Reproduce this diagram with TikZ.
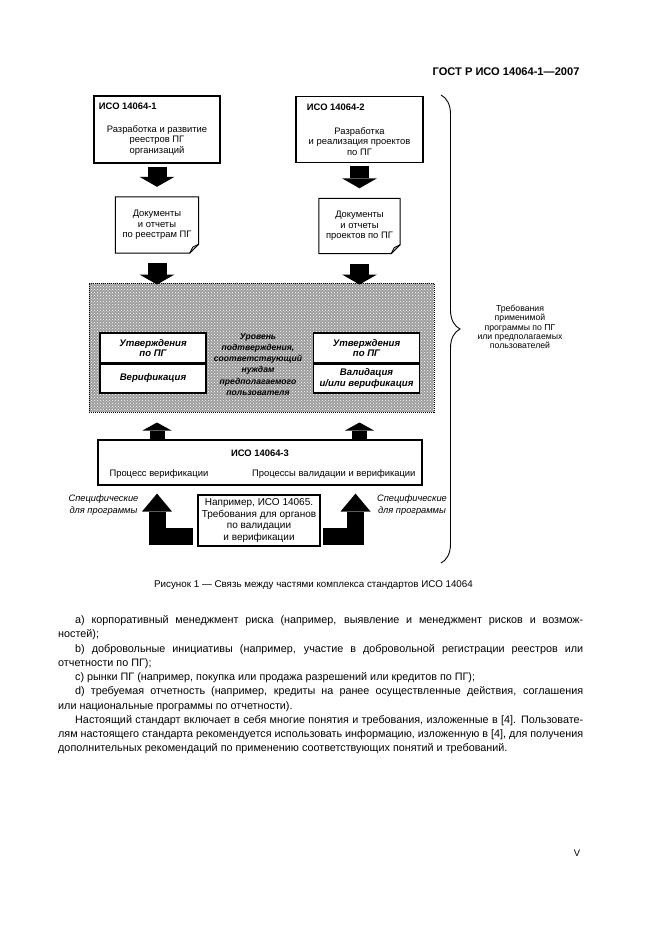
\documentclass[tikz,border=0pt]{standalone}
\usepackage{fontspec}
\setmainfont{Liberation Sans}
\usetikzlibrary{positioning, arrows.meta, patterns, decorations.pathreplacing}

\newcommand{\fullline}[1]{\makebox[\linewidth][s]{#1}\par}
\newcommand{\lastline}[1]{\mbox{#1}\par}

\begin{document}
\begin{tikzpicture}[x=1pt, y=-1pt, on grid, font=\fontsize{9.4}{10.6}\selectfont,
    isobox/.style={draw, line width=1.1pt, fill=white, minimum width=126pt, minimum height=67pt, inner sep=0pt},
    docbox/.style={minimum width=83pt, minimum height=56pt, align=center, inner sep=0pt},
    subbox/.style={draw, line width=1.1pt, fill=white, minimum width=106pt, minimum height=30pt, align=center, inner sep=0pt, font=\fontsize{9.6}{10.8}\selectfont\bfseries\itshape},
    fatdown/.style={line width=19pt, -{Triangle[width=35pt, length=10pt, line width=0pt]}},
    fatup/.style={line width=15pt, -{Triangle[width=29pt, length=8pt, line width=0pt]}},
    fatturn/.style={line width=17pt, line join=miter, -{Triangle[width=30pt, length=18pt, line width=0pt]}}]
  \useasboundingbox (0,0) rectangle (661,936);

  \node[anchor=east, font=\fontsize{11.1}{12}\selectfont\bfseries] (head) at (583,72) {ГОСТ Р ИСО 14064-1—2007};

  % upper boxes
  \node[isobox] (iso_1) at (157,129.5) {};
  \node[isobox, minimum width=127pt, minimum height=66pt] (iso_2) [right=202.5pt of iso_1] {};
  \node[anchor=north west, font=\fontsize{9.4}{10.6}\selectfont\bfseries] (iso_1_t) at ([shift={(2pt,-4pt)}]iso_1.north west) {ИСО 14064-1};
  \node[anchor=north west, font=\fontsize{9.4}{10.6}\selectfont\bfseries] (iso_2_t) at ([shift={(8pt,-4pt)}]iso_2.north west) {ИСО 14064-2};
  \node[align=center] (iso_1_b) [below=11pt of iso_1] {Разработка и развитие\\реестров ПГ\\организаций};
  \node[align=center] (iso_2_b) [below=12pt of iso_2] {Разработка\\и реализация проектов\\по ПГ};

  \node[docbox] (doc_1) [below=95.5pt of iso_1] {Документы\\и отчеты\\по реестрам ПГ};
  \node[docbox, minimum width=81pt, minimum height=55pt] (doc_2) [below=96.5pt of iso_2] {Документы\\и отчеты\\проектов по ПГ};
  \foreach \d in {doc_1, doc_2} {
    \draw[line width=1pt] (\d.north west) -- (\d.north east) -- ([yshift=9pt]\d.south east)
      -- ([xshift=-9pt]\d.south east) -- (\d.south west) -- cycle;
    \draw[line width=0.8pt] ([yshift=9pt]\d.south east) -- ([shift={(-6pt,6pt)}]\d.south east) -- ([xshift=-9pt]\d.south east);
  }

  % level of assurance
  \node[draw, densely dotted, line width=1pt, preaction={fill=black!38}, pattern=crosshatch dots, pattern color=white,
        minimum width=345pt, minimum height=129pt] (level) at (261.5,347.5) {};
  \node[subbox] (appr_1) at (153,348) {Утверждения\\по ПГ};
  \node[subbox, minimum height=29pt] (verif_1) [below=30.5pt of appr_1] {Верификация};
  \node[subbox] (appr_2) at (366.5,348) {Утверждения\\по ПГ};
  \node[subbox, minimum height=29pt] (valid_2) [below=30.5pt of appr_2] {Валидация\\и/или верификация};
  \node[align=center, font=\fontsize{8.6}{11.1}\selectfont\bfseries\itshape] (level_t) at (258,364.5)
    {Уровень\\подтверждения,\\соответствующий\\нуждам\\предполагаемого\\пользователя};

  % ISO 14064-3
  \node[draw, line width=1.1pt, minimum width=324pt, minimum height=45pt] (iso_3) at (260,462.5) {};
  \node[font=\fontsize{9.4}{10.6}\selectfont\bfseries] (iso_3_t) [above=9.5pt of iso_3] {ИСО 14064-3};
  \node[anchor=west] (iso_3_l) at (106,474) {Процесс верификации};
  \node[anchor=east] (iso_3_r) at (419,474) {Процессы валидации и верификации};

  \node[draw, line width=1.6pt, align=center, minimum width=122pt, minimum height=51pt, inner sep=0pt,
        font=\fontsize{10}{11.7}\selectfont] (ex) at (259,520.5)
    {Например, ИСО 14065.\\Требования для органов\\по валидации\\и верификации};
  \node[align=center, font=\fontsize{9.3}{12}\selectfont\itshape] (spec_1) at (103.5,505) {Специфические\\для программы};
  \node[align=center, font=\fontsize{9.3}{12}\selectfont\itshape] (spec_2) at (412,505) {Специфические\\для программы};

  \coordinate (turn_1) at ([shift={(-4pt,-16pt)}]ex.west);
  \coordinate (turn_2) at ([shift={(2pt,-16pt)}]ex.east);

  % block arrows
  \draw[fatdown, shorten <=3pt, shorten >=10pt] (iso_1) -- (doc_1);
  \draw[fatdown, shorten <=3pt, shorten >=10pt] (iso_2) -- (doc_2);
  \draw[fatdown, shorten <=10pt, shorten >=-2pt] (doc_1.south) -- (doc_1.south |- level.north);
  \draw[fatdown, shorten <=10pt, shorten >=-2pt] (doc_2.south) -- (doc_2.south |- level.north);
  \draw[fatup, shorten >=10pt] (iso_3.north -| iso_1) -- (level.south -| iso_1);
  \draw[fatup, shorten >=10pt] (iso_3.north -| iso_2) -- (level.south -| iso_2);
  \draw[fatturn, shorten >=8pt] (turn_1) -| (iso_3.south -| iso_1);
  \draw[fatturn, shorten >=8pt] (turn_2) -| ([xshift=-4pt]iso_3.south -| iso_2);

  % requirements brace
  \draw[decorate, decoration={brace, amplitude=19pt}, line width=0.9pt] (441,95) -- (441,563);
  \node[align=center, font=\fontsize{8.7}{9.3}\selectfont] (req) at (520,327)
    {Требования\\применимой\\программы по ПГ\\или предполагаемых\\пользователей};

  \node[font=\fontsize{9.8}{11}\selectfont] (caption) at (313.5,585) {Рисунок 1 — Связь между частями комплекса стандартов ИСО 14064};

  \node[anchor=north west, inner sep=0pt] (body) at (58,615.5) {\begin{minipage}{525pt}
    \fontsize{10.8}{14.25}\selectfont\setlength{\parindent}{0pt}
    \fullline{\hspace*{17pt}а) корпоративный менеджмент риска (например, выявление и менеджмент рисков и возмож-}
    \lastline{ностей);}
    \fullline{\hspace*{17pt}b) добровольные инициативы (например, участие в добровольной регистрации реестров или}
    \lastline{отчетности по ПГ);}
    \lastline{\hspace*{17pt}c) рынки ПГ (например, покупка или продажа разрешений или кредитов по ПГ);}
    \fullline{\hspace*{17pt}d) требуемая отчетность (например, кредиты на ранее осуществленные действия, соглашения}
    \lastline{или национальные программы по отчетности).}
    \fullline{\hspace*{17pt}Настоящий стандарт включает в себя многие понятия и требования, изложенные в [4]. Пользовате-}
    \fullline{лям настоящего стандарта рекомендуется использовать информацию, изложенную в [4], для получения}
    \lastline{дополнительных рекомендаций по применению соответствующих понятий и требований.}
  \end{minipage}};

  \node[font=\fontsize{9.5}{11}\selectfont] (page_no) at (577,853) {V};
\end{tikzpicture}
\end{document}
